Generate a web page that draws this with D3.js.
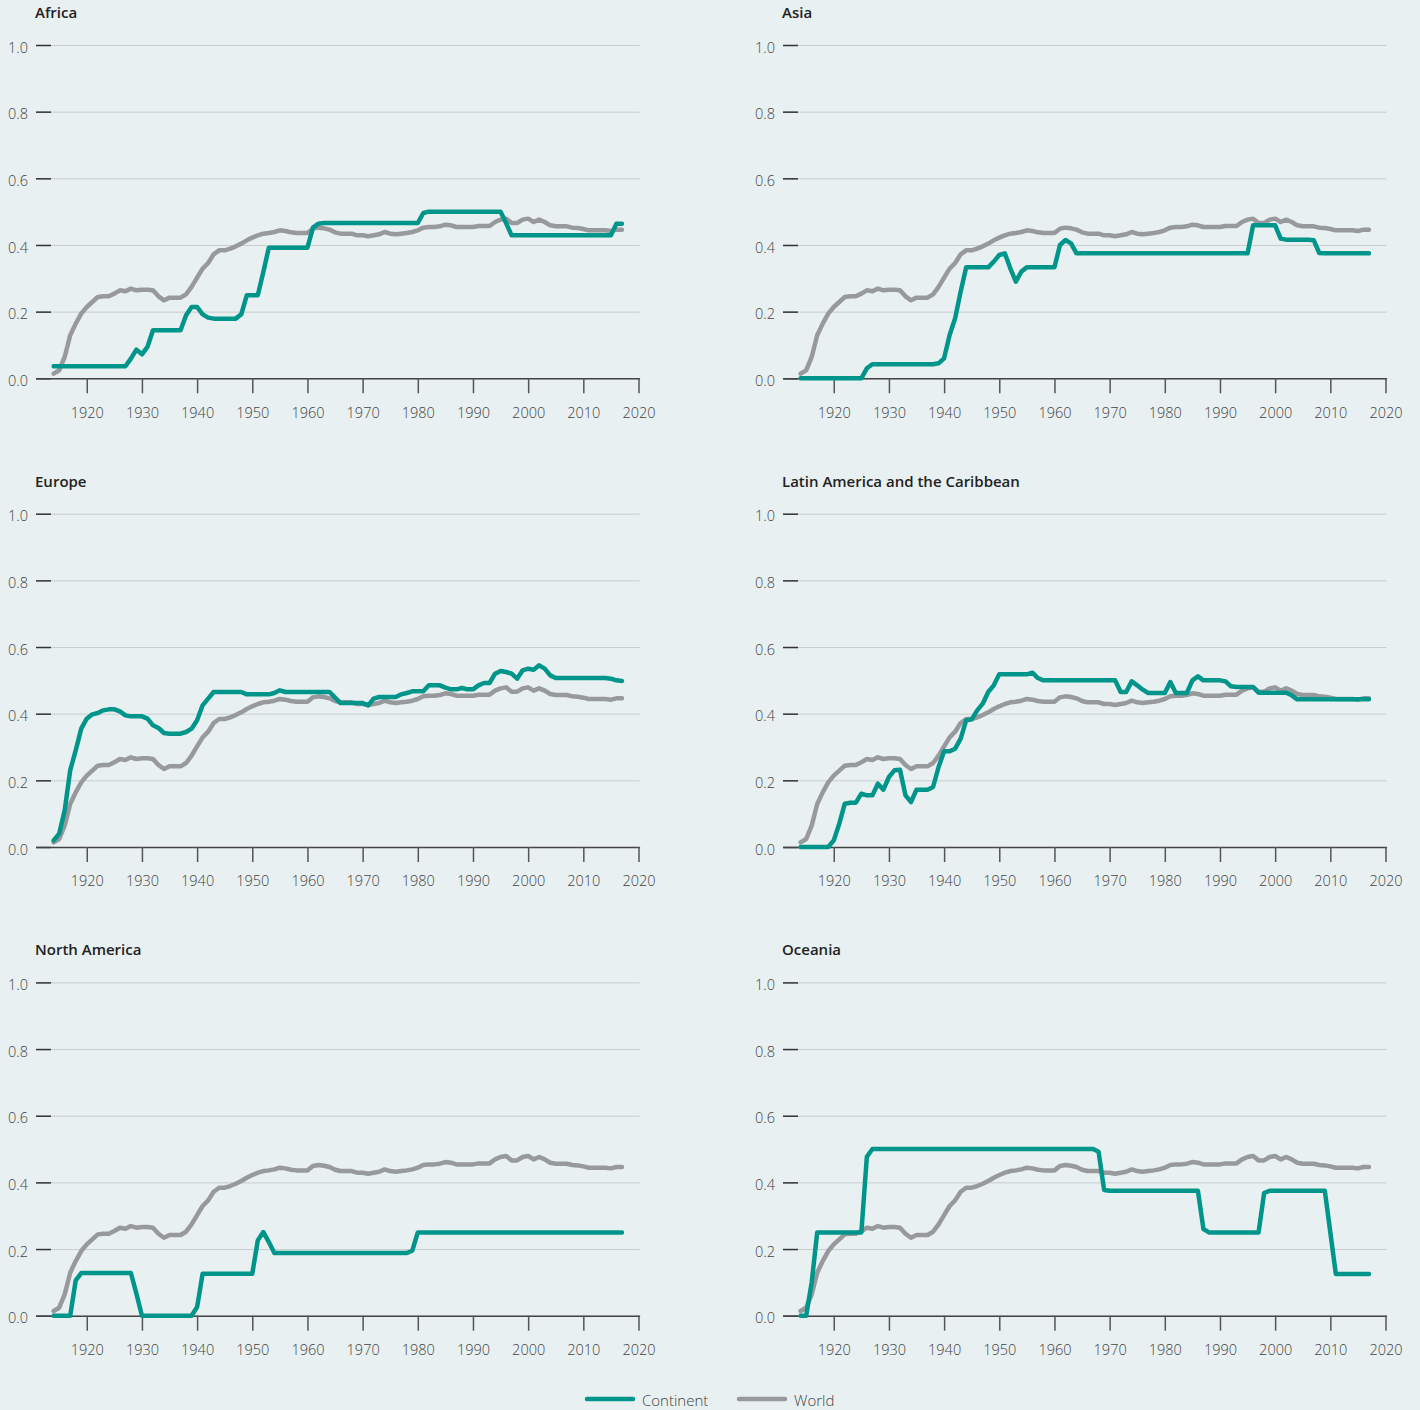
<!DOCTYPE html>
<html>
<head>
<meta charset="utf-8">
<script src="https://cdn.jsdelivr.net/npm/d3@7"></script>
<style>
  body { margin: 0; background: #e8f0f1; }
  svg text { font-family: "Open Sans", "Noto Sans", sans-serif; }
</style>
</head>
<body>
<div id="chart"></div>
<script>
// Years 1914..2017, one value per year
const startYear = 1914;

const world = [
  0.014, 0.024, 0.064, 0.129, 0.164, 0.194,
  0.214, 0.229, 0.244, 0.246, 0.246, 0.254, 0.264, 0.261, 0.269, 0.264,
  0.266, 0.266, 0.264, 0.246, 0.234, 0.242, 0.242, 0.242, 0.252, 0.274,
  0.302, 0.329, 0.346, 0.372, 0.384, 0.384, 0.389, 0.396, 0.404, 0.414,
  0.422, 0.429, 0.434, 0.436, 0.439, 0.444, 0.442, 0.438, 0.436, 0.436,
  0.436, 0.449, 0.452, 0.450, 0.446, 0.438, 0.434, 0.434, 0.434, 0.429,
  0.429, 0.426, 0.429, 0.432, 0.439, 0.434, 0.432, 0.434, 0.436, 0.439,
  0.444, 0.452, 0.454, 0.454, 0.456, 0.461, 0.459, 0.454, 0.454, 0.454,
  0.454, 0.457, 0.457, 0.457, 0.469, 0.476, 0.479, 0.466, 0.466, 0.476,
  0.479, 0.469, 0.476, 0.469, 0.459, 0.456, 0.456, 0.456, 0.452, 0.451,
  0.448, 0.444, 0.444, 0.444, 0.444, 0.442, 0.446, 0.446
];

const africa = [
  0.036, 0.036, 0.036, 0.036, 0.036, 0.036,
  0.036, 0.036, 0.036, 0.036, 0.036, 0.036, 0.036, 0.036, 0.059, 0.086,
  0.072, 0.094, 0.144, 0.144, 0.144, 0.144, 0.144, 0.144, 0.189, 0.214,
  0.214, 0.192, 0.182, 0.179, 0.179, 0.179, 0.179, 0.179, 0.192, 0.249,
  0.249, 0.249, 0.319, 0.392, 0.392, 0.392, 0.392, 0.392, 0.392, 0.392,
  0.392, 0.452, 0.464, 0.466, 0.466, 0.466, 0.466, 0.466, 0.466, 0.466,
  0.466, 0.466, 0.466, 0.466, 0.466, 0.466, 0.466, 0.466, 0.466, 0.466,
  0.466, 0.496, 0.500, 0.500, 0.500, 0.500, 0.500, 0.500, 0.500, 0.500,
  0.500, 0.500, 0.500, 0.500, 0.500, 0.500, 0.466, 0.429, 0.429, 0.429,
  0.429, 0.429, 0.429, 0.429, 0.429, 0.429, 0.429, 0.429, 0.429, 0.429,
  0.429, 0.429, 0.429, 0.429, 0.429, 0.429, 0.464, 0.464
];

const asia = [
  0, 0, 0, 0, 0, 0,
  0, 0, 0, 0, 0, 0, 0.030, 0.042, 0.042, 0.042,
  0.042, 0.042, 0.042, 0.042, 0.042, 0.042, 0.042, 0.042, 0.042, 0.045,
  0.060, 0.130, 0.180, 0.260, 0.333, 0.333, 0.333, 0.333, 0.333, 0.350,
  0.370, 0.375, 0.330, 0.290, 0.320, 0.333, 0.333, 0.333, 0.333, 0.333,
  0.333, 0.400, 0.415, 0.405, 0.375, 0.375, 0.375, 0.375, 0.375, 0.375,
  0.375, 0.375, 0.375, 0.375, 0.375, 0.375, 0.375, 0.375, 0.375, 0.375,
  0.375, 0.375, 0.375, 0.375, 0.375, 0.375, 0.375, 0.375, 0.375, 0.375,
  0.375, 0.375, 0.375, 0.375, 0.375, 0.375, 0.459, 0.459, 0.459, 0.459,
  0.459, 0.419, 0.416, 0.416, 0.416, 0.416, 0.416, 0.414, 0.376, 0.375,
  0.375, 0.375, 0.375, 0.375, 0.375, 0.375, 0.375, 0.375
];

const europe = [
  0.020, 0.040, 0.110, 0.230, 0.290, 0.355,
  0.385, 0.398, 0.402, 0.410, 0.413, 0.413, 0.407, 0.395, 0.392, 0.392,
  0.392, 0.385, 0.365, 0.357, 0.342, 0.340, 0.340, 0.340, 0.345, 0.355,
  0.380, 0.425, 0.445, 0.465, 0.465, 0.465, 0.465, 0.465, 0.465, 0.458,
  0.458, 0.458, 0.458, 0.458, 0.462, 0.470, 0.465, 0.465, 0.465, 0.465,
  0.465, 0.465, 0.465, 0.465, 0.465, 0.448, 0.432, 0.432, 0.432, 0.432,
  0.432, 0.425, 0.445, 0.450, 0.450, 0.450, 0.450, 0.458, 0.462, 0.467,
  0.467, 0.467, 0.485, 0.485, 0.485, 0.478, 0.473, 0.473, 0.477, 0.473,
  0.473, 0.485, 0.492, 0.492, 0.520, 0.528, 0.525, 0.520, 0.505, 0.530,
  0.535, 0.532, 0.545, 0.535, 0.515, 0.507, 0.507, 0.507, 0.507, 0.507,
  0.507, 0.507, 0.507, 0.507, 0.507, 0.505, 0.500, 0.498
];

const latinAmerica = [
  0, 0, 0, 0, 0, 0,
  0.020, 0.070, 0.130, 0.133, 0.133, 0.160, 0.155, 0.155, 0.190, 0.172,
  0.210, 0.230, 0.232, 0.155, 0.135, 0.172, 0.172, 0.172, 0.180, 0.240,
  0.287, 0.287, 0.295, 0.325, 0.380, 0.383, 0.410, 0.430, 0.465, 0.485,
  0.518, 0.518, 0.518, 0.518, 0.518, 0.518, 0.523, 0.507, 0.500, 0.500,
  0.500, 0.500, 0.500, 0.500, 0.500, 0.500, 0.500, 0.500, 0.500, 0.500,
  0.500, 0.500, 0.465, 0.465, 0.497, 0.485, 0.472, 0.462, 0.462, 0.462,
  0.462, 0.495, 0.462, 0.462, 0.462, 0.500, 0.512, 0.500, 0.500, 0.500,
  0.500, 0.497, 0.482, 0.480, 0.480, 0.480, 0.480, 0.463, 0.463, 0.463,
  0.463, 0.463, 0.463, 0.455, 0.443, 0.443, 0.443, 0.443, 0.443, 0.443,
  0.443, 0.443, 0.443, 0.443, 0.443, 0.443, 0.443, 0.443
];

const northAmerica = [
  0, 0, 0, 0, 0.106, 0.128,
  0.128, 0.128, 0.128, 0.128, 0.128, 0.128, 0.128, 0.128, 0.128, 0.066,
  0, 0, 0, 0, 0, 0, 0, 0, 0, 0,
  0.026, 0.126, 0.126, 0.126, 0.126, 0.126, 0.126, 0.126, 0.126, 0.126,
  0.126, 0.226, 0.251, 0.221, 0.188, 0.188, 0.188, 0.188, 0.188, 0.188,
  0.188, 0.188, 0.188, 0.188, 0.188, 0.188, 0.188, 0.188, 0.188, 0.188,
  0.188, 0.188, 0.188, 0.188, 0.188, 0.188, 0.188, 0.188, 0.188, 0.195,
  0.250, 0.250, 0.250, 0.250, 0.250, 0.250, 0.250, 0.250, 0.250, 0.250,
  0.250, 0.250, 0.250, 0.250, 0.250, 0.250, 0.250, 0.250, 0.250, 0.250,
  0.250, 0.250, 0.250, 0.250, 0.250, 0.250, 0.250, 0.250, 0.250, 0.250,
  0.250, 0.250, 0.250, 0.250, 0.250, 0.250, 0.250, 0.250
];

const oceania = [
  0, 0, 0.100, 0.250, 0.250, 0.250,
  0.250, 0.250, 0.250, 0.250, 0.250, 0.250, 0.477, 0.500, 0.500, 0.500,
  0.500, 0.500, 0.500, 0.500, 0.500, 0.500, 0.500, 0.500, 0.500, 0.500,
  0.500, 0.500, 0.500, 0.500, 0.500, 0.500, 0.500, 0.500, 0.500, 0.500,
  0.500, 0.500, 0.500, 0.500, 0.500, 0.500, 0.500, 0.500, 0.500, 0.500,
  0.500, 0.500, 0.500, 0.500, 0.500, 0.500, 0.500, 0.500, 0.492, 0.377,
  0.375, 0.375, 0.375, 0.375, 0.375, 0.375, 0.375, 0.375, 0.375, 0.375,
  0.375, 0.375, 0.375, 0.375, 0.375, 0.375, 0.375, 0.260, 0.250, 0.250,
  0.250, 0.250, 0.250, 0.250, 0.250, 0.250, 0.250, 0.250, 0.368, 0.375,
  0.375, 0.375, 0.375, 0.375, 0.375, 0.375, 0.375, 0.375, 0.375, 0.375,
  0.250, 0.125, 0.125, 0.125, 0.125, 0.125, 0.125, 0.125
];

const regions = ["Africa", "Asia", "Europe", "Latin America and the Caribbean", "North America", "Oceania"];
const regionSeries = [africa, asia, europe, latinAmerica, northAmerica, oceania];
const yTicks = [0, 0.2, 0.4, 0.6, 0.8, 1.0];
const xTicks = [1920, 1930, 1940, 1950, 1960, 1970, 1980, 1990, 2000, 2010, 2020];
const legendLabels = ["Continent", "World"];

const width = 1420;
const height = 1410;
const plotW = 603.6;
const plotH = 333.3;
const colX = [36, 783];
const rowY = [45, 513.7, 982.4];
const teal = "#00958a";
const grey = "#98999c";

const svg = d3.select("#chart")
    .append("svg")
    .attr("width", width)
    .attr("height", height);

svg.append("rect")
    .attr("width", width)
    .attr("height", height)
    .attr("fill", "#e8f0f1");

const x = d3.scaleLinear()
    .domain([1910.8, 2020.2])
    .range([0, plotW]);

const y = d3.scaleLinear()
    .domain([0, 1])
    .range([plotH, 0]);

const toPoints = arr => arr.map((v, i) => ({ year: startYear + i, value: v }));

const line = d3.line()
    .x(d => x(d.year))
    .y(d => y(d.value));

regions.forEach((name, i) => {
    const g = svg.append("g")
        .attr("transform", `translate(${colX[i % 2]},${rowY[Math.floor(i / 2)]})`);

    // Title
    g.append("text")
        .attr("x", -1)
        .attr("y", -27)
        .attr("font-size", 15)
        .attr("font-weight", 600)
        .attr("fill", "#222")
        .text(name);

    // Gridlines
    const grid = g.append("g")
        .call(d3.axisLeft(y).tickValues(yTicks).tickSize(-plotW).tickFormat(""));
    grid.select(".domain").remove();
    grid.selectAll("line").attr("stroke", "#c8cdce").attr("stroke-width", 1);

    // Y ticks
    const yAxis = g.append("g")
        .call(d3.axisLeft(y).tickValues(yTicks).tickSize(-15).tickPadding(8).tickFormat(d3.format(".1f")));
    yAxis.select(".domain").remove();
    yAxis.selectAll("line").attr("stroke", "#333").attr("stroke-width", 1.5);
    yAxis.selectAll("text")
        .attr("font-size", 14.5)
        .attr("font-weight", 300)
        .attr("fill", "#444")
        .attr("dy", "0.5em");

    // X axis
    const xAxis = g.append("g")
        .attr("transform", `translate(0,${plotH})`)
        .call(d3.axisBottom(x).tickValues(xTicks).tickSize(15).tickSizeOuter(0).tickPadding(14).tickFormat(d3.format("d")));
    xAxis.select(".domain").attr("stroke", "#444").attr("stroke-width", 1.5);
    xAxis.selectAll("line").attr("stroke", "#555").attr("stroke-width", 1.5);
    xAxis.selectAll("text")
        .attr("font-size", 14.5)
        .attr("font-weight", 300)
        .attr("fill", "#444");

    // World line
    g.append("path")
        .datum(toPoints(world))
        .attr("fill", "none")
        .attr("stroke", grey)
        .attr("stroke-width", 4.5)
        .attr("stroke-linejoin", "round")
        .attr("stroke-linecap", "round")
        .attr("d", line);

    // Continent line
    g.append("path")
        .datum(toPoints(regionSeries[i]))
        .attr("fill", "none")
        .attr("stroke", teal)
        .attr("stroke-width", 4.5)
        .attr("stroke-linejoin", "round")
        .attr("stroke-linecap", "round")
        .attr("d", line);
});

// Legend
const legend = svg.append("g").attr("transform", "translate(587,1399)");
const legendColors = [teal, grey];
const legendX = [0, 152];
legendLabels.forEach((lab, i) => {
    const item = legend.append("g").attr("transform", `translate(${legendX[i]},0)`);
    item.append("line")
        .attr("x1", 0).attr("x2", 46)
        .attr("stroke", legendColors[i])
        .attr("stroke-width", 4.5)
        .attr("stroke-linecap", "round");
    item.append("text")
        .attr("x", 55)
        .attr("y", 6.5)
        .attr("font-size", 15)
        .attr("font-weight", 300)
        .attr("fill", "#444")
        .text(lab);
});
</script>
</body>
</html>
